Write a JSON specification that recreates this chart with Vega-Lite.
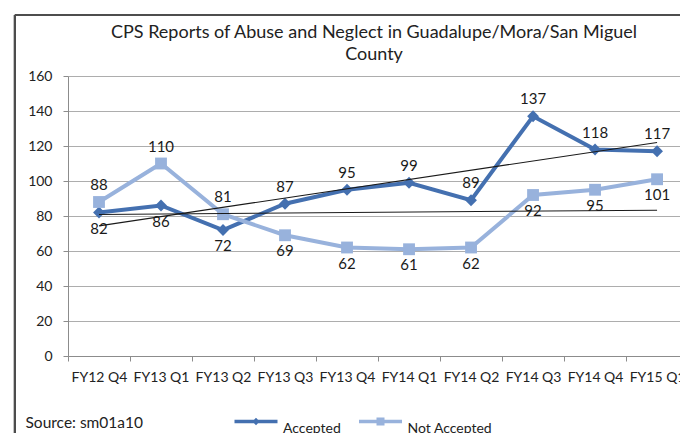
{
  "$schema": "https://vega.github.io/schema/vega-lite/v6.json",
  "width": 612,
  "height": 280,
  "autosize": {"type": "none"},
  "padding": {"left": 68, "top": 76, "right": 0, "bottom": 77},
  "background": "white",
  "title": {
    "text": ["CPS Reports of Abuse and Neglect in Guadalupe/Mora/San Miguel", "County"],
    "anchor": "middle",
    "frame": "group",
    "font": "Lato",
    "fontSize": 18,
    "fontWeight": "normal",
    "color": "#222222",
    "lineHeight": 22,
    "offset": -50
  },
  "data": {
    "values": [
      {"q": "FY12 Q4", "i": 0, "series": "Accepted", "value": 82},
      {"q": "FY13 Q1", "i": 1, "series": "Accepted", "value": 86},
      {"q": "FY13 Q2", "i": 2, "series": "Accepted", "value": 72},
      {"q": "FY13 Q3", "i": 3, "series": "Accepted", "value": 87},
      {"q": "FY13 Q4", "i": 4, "series": "Accepted", "value": 95},
      {"q": "FY14 Q1", "i": 5, "series": "Accepted", "value": 99},
      {"q": "FY14 Q2", "i": 6, "series": "Accepted", "value": 89},
      {"q": "FY14 Q3", "i": 7, "series": "Accepted", "value": 137},
      {"q": "FY14 Q4", "i": 8, "series": "Accepted", "value": 118},
      {"q": "FY15 Q1", "i": 9, "series": "Accepted", "value": 117},
      {"q": "FY12 Q4", "i": 0, "series": "Not Accepted", "value": 88},
      {"q": "FY13 Q1", "i": 1, "series": "Not Accepted", "value": 110},
      {"q": "FY13 Q2", "i": 2, "series": "Not Accepted", "value": 81},
      {"q": "FY13 Q3", "i": 3, "series": "Not Accepted", "value": 69},
      {"q": "FY13 Q4", "i": 4, "series": "Not Accepted", "value": 62},
      {"q": "FY14 Q1", "i": 5, "series": "Not Accepted", "value": 61},
      {"q": "FY14 Q2", "i": 6, "series": "Not Accepted", "value": 62},
      {"q": "FY14 Q3", "i": 7, "series": "Not Accepted", "value": 92},
      {"q": "FY14 Q4", "i": 8, "series": "Not Accepted", "value": 95},
      {"q": "FY15 Q1", "i": 9, "series": "Not Accepted", "value": 101}
    ]
  },
  "layer": [
    {
      "mark": {"type": "line", "strokeWidth": 4, "strokeJoin": "miter"},
      "encoding": {
        "x": {
          "field": "i", "type": "quantitative",
          "scale": {"domain": [-0.5, 9.37], "nice": false, "zero": false},
          "axis": {
            "values": [0, 1, 2, 3, 4, 5, 6, 7, 8, 9],
            "tickCount": 20,
            "labelExpr": "['FY12 Q4','FY13 Q1','FY13 Q2','FY13 Q3','FY13 Q4','FY14 Q1','FY14 Q2','FY14 Q3','FY14 Q4','FY15 Q1'][datum.value]",
            "tickOffset": -31,
            "labelOffset": 31,
            "tickSize": 5,
            "tickColor": "#8C8C8C",
            "domainColor": "#8C8C8C",
            "grid": false,
            "labelFont": "Lato",
            "labelFontSize": 14,
            "labelColor": "#222222",
            "labelPadding": 9,
            "labelOverlap": false,
            "labelBound": false,
            "labelFlush": false,
            "title": "Source: sm01a10",
            "titleX": -43,
            "titleY": 71,
            "titleAlign": "left",
            "titleBaseline": "alphabetic",
            "titleFont": "Lato",
            "titleFontSize": 15.5,
            "titleFontWeight": "normal",
            "titleColor": "#222222"
          }
        },
        "y": {
          "field": "value", "type": "quantitative",
          "scale": {"domain": [0, 160], "nice": false},
          "axis": {
            "values": [0, 20, 40, 60, 80, 100, 120, 140, 160],
            "tickCount": 20,
            "labelOverlap": false,
            "grid": true,
            "gridColor": "#ADADAD",
            "gridWidth": 1,
            "tickSize": 5,
            "tickColor": "#8C8C8C",
            "domainColor": "#8C8C8C",
            "labelFont": "Lato",
            "labelFontSize": 14,
            "labelColor": "#222222",
            "labelPadding": 11,
            "title": null
          }
        },
        "color": {
          "field": "series", "type": "nominal",
          "scale": {"domain": ["Accepted", "Not Accepted"], "range": ["#4470B0", "#98B2DC"]},
          "legend": {
            "orient": "none",
            "legendX": 181,
            "legendY": 338.5,
            "direction": "horizontal",
            "columns": 2,
            "title": null,
            "padding": 0,
            "symbolSize": 100,
            "labelOffset": 20,
            "columnPadding": 17.5,
            "labelFont": "Lato",
            "labelFontSize": 14,
            "labelColor": "#222222",
            "labelBaseline": "top",
            "encode": {
              "symbols": {
                "update": {
                  "shape": {"signal": "datum.value === 'Accepted' ? 'M-4.3,-0.37H4.3V0.37H-4.3Z M0,-0.75L0.75,0L0,0.75L-0.75,0Z' : 'M-4.3,-0.37H4.3V0.37H-4.3Z M-0.8,-0.8H0.8V0.8H-0.8Z'"},
                  "fill": {"signal": "datum.value === 'Accepted' ? '#4470B0' : '#98B2DC'"},
                  "fillOpacity": {"value": 1},
                  "opacity": {"value": 1},
                  "stroke": {"value": "transparent"},
                  "strokeWidth": {"value": 0}
                }
              }
            }
          }
        }
      }
    },
    {
      "transform": [{"filter": "datum.series === 'Accepted'"}],
      "mark": {"type": "point", "shape": "diamond", "filled": true, "size": 140, "opacity": 1},
      "encoding": {
        "x": {"field": "i", "type": "quantitative"},
        "y": {"field": "value", "type": "quantitative"},
        "color": {"field": "series", "type": "nominal"}
      }
    },
    {
      "transform": [{"filter": "datum.series === 'Not Accepted'"}],
      "mark": {"type": "point", "shape": "square", "filled": true, "size": 140, "opacity": 1},
      "encoding": {
        "x": {"field": "i", "type": "quantitative"},
        "y": {"field": "value", "type": "quantitative"},
        "color": {"field": "series", "type": "nominal"}
      }
    },
    {
      "transform": [
        {"regression": "value", "on": "i", "groupby": ["series"], "extent": [0, 9]}
      ],
      "mark": {"type": "line", "color": "#1A1A1A", "strokeWidth": 1.1},
      "encoding": {
        "x": {"field": "i", "type": "quantitative"},
        "y": {"field": "value", "type": "quantitative"},
        "detail": {"field": "series", "type": "nominal"}
      }
    },
    {
      "transform": [{"filter": "(datum.series === 'Accepted') === (datum.i >= 3)"}],
      "mark": {"type": "text", "dy": -17, "baseline": "middle", "align": "center", "font": "Lato", "fontSize": 15, "color": "#1A1A1A"},
      "encoding": {
        "x": {"field": "i", "type": "quantitative"},
        "y": {"field": "value", "type": "quantitative"},
        "text": {"field": "value", "type": "quantitative"}
      }
    },
    {
      "transform": [{"filter": "(datum.series === 'Accepted') !== (datum.i >= 3)"}],
      "mark": {"type": "text", "dy": 16, "baseline": "middle", "align": "center", "font": "Lato", "fontSize": 15, "color": "#1A1A1A"},
      "encoding": {
        "x": {"field": "i", "type": "quantitative"},
        "y": {"field": "value", "type": "quantitative"},
        "text": {"field": "value", "type": "quantitative"}
      }
    },
    {
      "mark": {"type": "rule", "color": "#4D4D4D", "strokeWidth": 2},
      "encoding": {
        "x": {"datum": -1.355, "type": "quantitative"},
        "y": {"datum": 194.86, "type": "quantitative"},
        "x2": {"datum": 12}
      }
    },
    {
      "mark": {"type": "rule", "color": "#4D4D4D", "strokeWidth": 2},
      "encoding": {
        "x": {"datum": -1.355, "type": "quantitative"},
        "y": {"datum": 194.86, "type": "quantitative"},
        "y2": {"datum": -60}
      }
    }
  ],
  "config": {
    "view": {"stroke": null}
  }
}
